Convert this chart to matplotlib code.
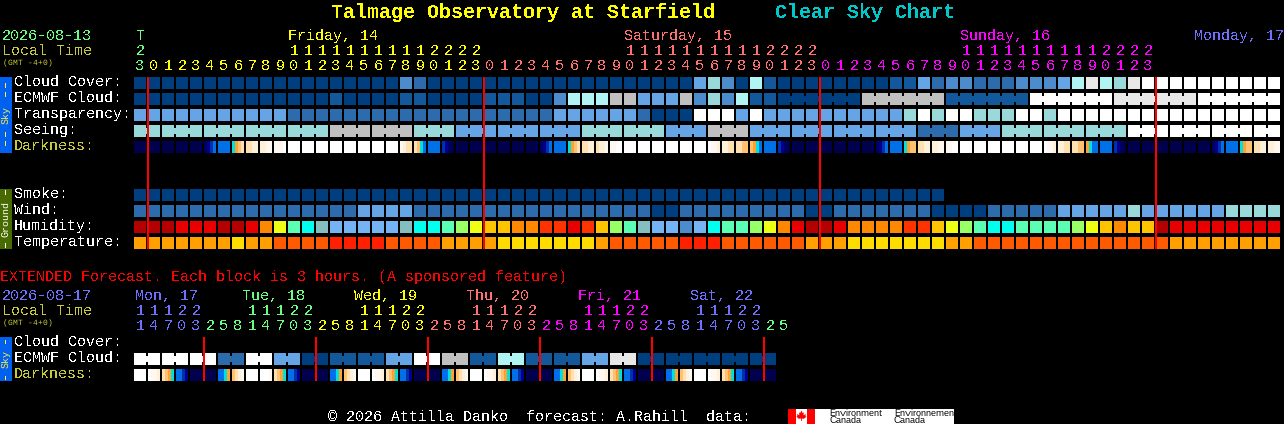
import matplotlib
matplotlib.use("Agg")
import matplotlib.pyplot as plt
from matplotlib.patches import Rectangle, Polygon

plt.rcParams['text.antialiased'] = False
plt.rcParams['text.hinting'] = 'native'
plt.rcParams['text.hinting_factor'] = 1
MONO = 'Liberation Mono'
SANS = 'Liberation Sans'

# ---------- data (level codes) ----------
cloud_palette = ['#003f7f', '#13589a', '#2c6cac', '#4c8ccc', '#65a5e5',
                 '#99d9d9', '#b0f4f4', '#c0c0c0', '#e8e8e8', '#ffffff']
cloud_cover = [0]*19 + [3, 2] + [0]*19 + [4, 5, 3, 0, 6, 1] + [0]*8 + [1, 1, 4, 2, 3, 3, 2, 2, 2, 3, 3, 3, 4,
               6, 8, 6, 5, 8, 9] + [9]*9
ecmwf_single = [0]*14 + [1] + [0]*4 + [1, 1] + [0]*4 + [1, 1, 1, 0, 0, 3, 6, 6, 6, 7, 7, 4, 4, 4, 7, 3, 5, 3, 6, 1, 1]
ecmwf_groups = [6, 6, 6, 6, 6, 6]
ecmwf_group_levels = [0, 7, 1, 9, 8, 9]
transparency = [4]*11 + [2]*19 + [4]*6 + [2, 0, 0, 0, 9, 9, 9, 4, 9] + [4]*10 + [5, 9, 5, 9, 9, 5, 5, 5, 9, 9, 5] + [9]*16
seeing_groups = [2, 3, 3, 3, 3, 3, 3, 3, 3, 3, 3, 3, 3, 3, 3, 3, 3, 3, 3, 3, 3, 3, 3, 3, 3, 3, 3, 2]
seeing_levels = [5, 5, 5, 5, 5, 7, 7, 5, 4, 4, 4, 5, 5, 4, 7, 4, 4, 4, 4, 2, 4, 5, 5, 5, 9, 9, 9, 9]
smoke = [0]*58
wind = [2]*16 + [4]*4 + [2]*17 + [0, 0] + [2]*9 + [0, 0] + [2]*7 + [0]*4 + [2]*5 + [4]*5 + [5] + [4]*6 + [5]*4

humid_palette = {'D': '#b40000', 'R': '#e80000', 'T': '#ff3300', 'O': '#ff8800', 'A': '#ffc400',
                 'Y': '#ecff14', 'L': '#99ff66', 'M': '#5affb4', 'C': '#00ffee', 'G': '#84bebe',
                 'B': '#74b4f4', 'S': '#4c8ccc'}
humidity = list("DDDRRRDDRO" "YMCGBBBBBG" "CCMLYAAOOT" "TRTALMGBBS" "BCMMLYORDD" "ROOOOTTAYL" "MCCMMMMLYA" "OAADRRRRRR" "RR")
temp_palette = {'a': '#ffa000', 'y': '#ffdc00', 'o': '#ff5a00', 'r': '#ff2000'}
temperature = list("aaaaaaayaa" "oooorrrroo" "ooaaaayyyy" "yyyaooooor" "rrooooooaa" "ayyyyyyyaa" "oooooooooo" "oooo" "aaaaaaaa")

dark_palette = {'a': '#00004c', 'b': '#000060', 'c': '#000090', 'd': '#0030b0', 'e': '#0070e8',
                'f': '#00e0e0', 'g': '#ffa030', 'h': '#ffc070', 'i': '#ffe0b0', 'j': '#fff0d8',
                'k': '#fff8f0', 'l': '#ffffff'}
NAVY, BLUE, WHITE = 'aaaa', 'eeee', 'llll'
darkness = [NAVY]*5 + ['bcde', BLUE, 'fghi', 'iijj', 'jjkk', 'kkkl'] + [WHITE]*8 + ['kjii', 'ihfe', BLUE, 'dcba'] \
    + [NAVY]*6 + ['bcde', BLUE, 'fghi', 'iijj', 'ijjk', 'kkll'] + [WHITE]*6 + ['lkkj', 'jjii', 'iihh', 'hgfe', BLUE, 'dcba'] \
    + [NAVY]*6 + ['bcde', BLUE, 'fghh', 'iijj', 'jjkk', 'kkll'] + [WHITE]*6 + ['lkkj', 'jjii', 'iihh', 'gfee', BLUE, 'dcba'] \
    + [NAVY]*6 + ['bcde', BLUE, 'fghh', 'iijj', 'jjkk']

ext_ecmwf_levels = [9, 9, 9, 2, 9, 4, 0, 1, 1, 4, 9, 7, 1, 6, 1, 1, 4, 8, 0, 0, 0, 0, 0]
ext_darkness = [WHITE, 'lkkj', 'ihgf', 'eedc', NAVY, NAVY, 'eefg', 'hijk', WHITE, 'lllk', 'ihgf', 'eedc', NAVY, NAVY,
                'eefg', 'hijk', WHITE, 'lkkj', 'ihgf', 'eedc', NAVY, NAVY, 'eefg', 'hijk', WHITE, 'lkkj', 'ihgf', 'eedc',
                NAVY, NAVY, 'eefg', 'hijk', WHITE, 'lkkj', 'ihgf', 'eedc', NAVY, NAVY, 'eefg', 'hijk', WHITE, 'lkkj',
                'ihgf', 'eedc', NAVY, NAVY]

GREEN, YEL, SAL, MAG, VIO = '#66ff80', '#ffff00', '#ff7070', '#ff00ff', '#7070ff'
hour_units = list("3012345678901234567890123" "012345678901234567890123" "012345678901234567890123" "012345678")
hour_tens = list("2") + list(" "*10 + "1"*10 + "2"*4) + list(" "*10 + "1"*10 + "2"*4) + list(" "*10 + "1"*10 + "2"*4)
hour_colors = [GREEN] + [YEL]*24 + [SAL]*24 + [MAG]*24 + [VIO]*9
day_labels = ['T', 'Friday, 14', 'Saturday, 15', 'Sunday, 16', 'Monday, 17']
day_x = [136, 288, 624, 960, 1194]
day_colors = [GREEN, YEL, SAL, MAG, VIO]

ext_units = list("14703" "25814703" "25814703" "25814703" "25814703" "25814703" "25")
ext_tens = list("11122" + "   11122"*5)
ext_colors = [VIO]*5 + [GREEN]*8 + [YEL]*8 + [SAL]*8 + [MAG]*8 + [VIO]*8 + [GREEN]*2
ext_days = ['Mon, 17', 'Tue, 18', 'Wed, 19', 'Thu, 20', 'Fri, 21', 'Sat, 22']
ext_day_x = [135, 242, 354, 466, 578, 690]
ext_day_colors = [VIO, GREEN, YEL, SAL, MAG, VIO]

sky_labels = ['Cloud Cover:', 'ECMWF Cloud:', 'Transparency:', 'Seeing:', 'Darkness:']
ground_labels = ['Smoke:', 'Wind:', 'Humidity:', 'Temperature:']
ext_labels = ['Cloud Cover:', 'ECMWF Cloud:', 'Darkness:']
midnight_lines = [147, 483, 819, 1155]
ext_lines = [203, 315, 427, 539, 651, 763]

# ---------- drawing ----------
fig = plt.figure(figsize=(12.84, 4.24), dpi=100, facecolor='black')
ax = fig.add_axes([0, 0, 1, 1])
ax.set_xlim(0, 1284)
ax.set_ylim(424, 0)
ax.axis('off')

X0, PITCH, W = 134, 14, 12


def box(x, y, w, h, c, z=2):
    ax.add_patch(Rectangle((x, y), w, h, facecolor=c, edgecolor='none', linewidth=0, antialiased=False, zorder=z))


def txt(x, y, s, c='white', px=15, **kw):
    kw.setdefault('family', MONO)
    ax.text(x, y, s, color=c, fontsize=px * 0.72, va=kw.pop('va', 'baseline'), ha=kw.pop('ha', 'left'), **kw)


def simple_row(values, y, palette):
    for i, v in enumerate(values):
        box(X0 + i * PITCH, y, W, W, palette[v])


def grouped_row(groups, levels, y, start, palette):
    i = start
    for n, lv in zip(groups, levels):
        for k in range(n):
            box(X0 + (i + k) * PITCH, y, W, W, palette[lv])
            if k < n - 1:
                box(X0 + (i + k) * PITCH + W, y + 3, PITCH - W, 6, palette[lv])
        i += n


def dark_row(values, y):
    for i, s in enumerate(values):
        for j, ch in enumerate(s):
            box(X0 + i * PITCH + j * 3, y, 3, W, dark_palette[ch])


# title
txt(331, 18, 'Talmage Observatory at Starfield', YEL, 20, fontweight='bold')
txt(775, 18, 'Clear Sky Chart', '#00c8c8', 20, fontweight='bold')

# header
OLIVE = '#c8c83c'
txt(2, 40, '2026-08-13', GREEN)
txt(2, 55, 'Local Time', OLIVE)
txt(3, 65, '(GMT -4+0)', OLIVE, 8, antialiased=True)
for s, x, c in zip(day_labels, day_x, day_colors):
    txt(x, 40, s, c)
for i, (u, t, c) in enumerate(zip(hour_units, hour_tens, hour_colors)):
    cx = X0 + i * PITCH + 6
    txt(cx, 70, u, c, ha='center')
    if t.strip():
        txt(cx, 55, t, c, ha='center')
# side labels
for k, s in enumerate(sky_labels):
    txt(14, 86 + 16 * k, s, OLIVE if s == 'Darkness:' else 'white')
for k, s in enumerate(ground_labels):
    txt(14, 198 + 16 * k, s)

DASH_SKY = '#ffee44'
box(0, 77, 12, 76, '#0060f0')
txt(6, 115, 'Sky', DASH_SKY, 10, rotation=90, ha='center', va='center', antialiased=True)
for y in (83, 92, 132, 141):
    box(5, y, 1, 5, DASH_SKY, 3)
box(0, 189, 12, 60, '#476b00')
txt(6, 219, 'Ground', 'white', 10, rotation=90, ha='center', va='center', antialiased=True)
for y in (190, 243):
    box(5, y, 1, 5, 'white', 3)
box(0, 337, 12, 44, '#0060f0')
txt(6, 359, 'Sky', DASH_SKY, 10, rotation=90, ha='center', va='center', antialiased=True)
for y in (340, 376):
    box(5, y, 1, 4, DASH_SKY, 3)

# main rows
simple_row(cloud_cover, 77, cloud_palette)
simple_row(ecmwf_single, 93, cloud_palette)
grouped_row(ecmwf_groups, ecmwf_group_levels, 93, len(ecmwf_single), cloud_palette)
simple_row(transparency, 109, cloud_palette)
grouped_row(seeing_groups, seeing_levels, 125, 0, cloud_palette)
dark_row(darkness, 141)
simple_row(smoke, 189, cloud_palette)
simple_row(wind, 205, cloud_palette)
simple_row(humidity, 221, humid_palette)
simple_row(temperature, 237, temp_palette)
for x in midnight_lines:
    box(x, 77, 2, 172, '#ff0000', 5)

# extended
txt(0, 281, 'EXTENDED Forecast. Each block is 3 hours. (A sponsored feature)', '#ff0000')
txt(2, 300, '2026-08-17', VIO)
txt(2, 315, 'Local Time', OLIVE)
txt(3, 325, '(GMT -4+0)', OLIVE, 8, antialiased=True)
for s, x, c in zip(ext_days, ext_day_x, ext_day_colors):
    txt(x, 300, s, c)
for i, (u, c) in enumerate(zip(ext_units, ext_colors)):
    cx = X0 + i * PITCH + 6
    txt(cx, 330, u, c, ha='center')
    if i < len(ext_tens) and ext_tens[i].strip():
        txt(cx, 315, ext_tens[i], c, ha='center')
for k, s in enumerate(ext_labels):
    txt(14, 346 + 16 * k, s, OLIVE if s == 'Darkness:' else 'white')
grouped_row([2] * len(ext_ecmwf_levels), ext_ecmwf_levels, 353, 0, cloud_palette)
dark_row(ext_darkness, 369)
for x in ext_lines:
    box(x, 337, 2, 44, '#ff0000', 5)

# footer
txt(328, 421, '\u00a9 2026 Attilla Danko  forecast: A.Rahill  data:')
box(788, 409, 166, 15, 'white')
box(788, 409, 8, 15, '#ff0000', 3)
box(807, 409, 8, 15, '#ff0000', 3)
cx, cy = 801.4, 416
leaf = [(0, -5.5), (1.2, -3), (2.5, -3.6), (2, -0.8), (4.5, -2), (4, 0), (5, 0.8), (2.5, 2.8), (0.4, 2.5), (0.4, 5),
        (-0.4, 5), (-0.4, 2.5), (-2.5, 2.8), (-5, 0.8), (-4, 0), (-4.5, -2), (-2, -0.8), (-2.5, -3.6), (-1.2, -3)]
ax.add_patch(Polygon([(cx + a, cy + b) for a, b in leaf], closed=True, facecolor='#ff0000', edgecolor='none', zorder=4))
txt(829, 415.5, 'Environment', 'black', 9, family=SANS, antialiased=True)
txt(829, 423, 'Canada', 'black', 9, family=SANS, antialiased=True)
txt(894, 415.5, 'Environnement', 'black', 9, family=SANS, antialiased=True)
txt(894, 423, 'Canada', 'black', 9, family=SANS, antialiased=True)

fig.savefig('out.png', dpi=100, facecolor='black')
